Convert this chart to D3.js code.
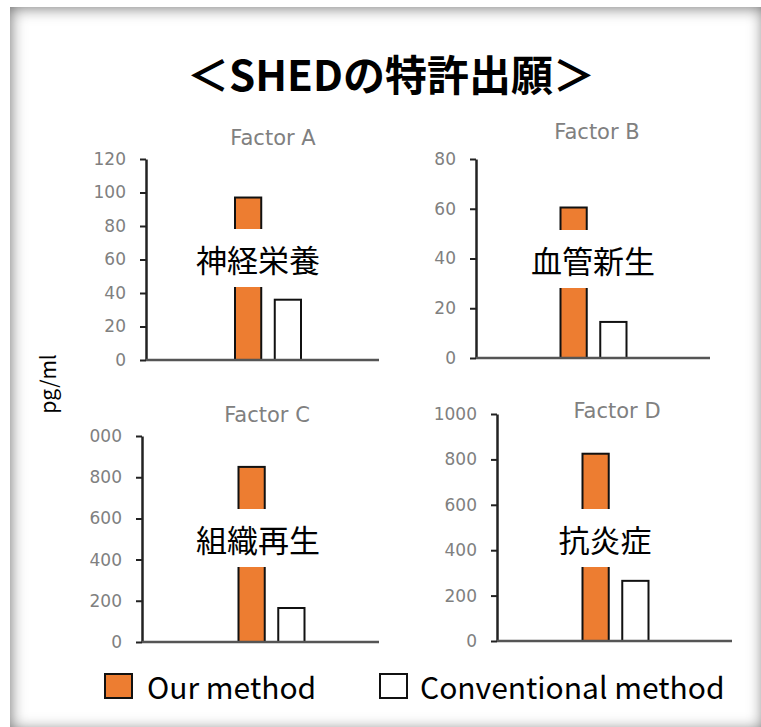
<!DOCTYPE html>
<html>
<head>
<meta charset="utf-8">
<script src="https://cdn.jsdelivr.net/npm/d3@7"></script>
<style>
  html, body { margin: 0; padding: 0; background: #fff; }
  body { width: 761px; height: 727px; overflow: hidden; position: relative; }
  #frame { position: absolute; left: 10px; top: 7px; width: 754px; height: 724px;
           box-shadow: inset 0 0 16px rgba(0,0,0,0.6); background: #fff; }
  svg { position: absolute; left: 0; top: 0; }
</style>
</head>
<body>
<div id="frame"></div>
<svg id="chart" width="761" height="727"></svg>
<script>
// ---- data ----
const chartTitle = "＜SHEDの特許出願＞";
const yAxisTitle = "pg/ml";
const panelTitles = ["Factor A", "Factor B", "Factor C", "Factor D"];
const panelLabels = ["神経栄養", "血管新生", "組織再生", "抗炎症"];
const seriesNames = ["Our method", "Conventional method"];
const ourMethod = [97, 60.5, 850, 825];
const conventionalMethod = [36, 14.5, 165, 265];
const yMaxes = [120, 80, 1000, 1000];
const tickA = [0, 20, 40, 60, 80, 100, 120];
const tickB = [0, 20, 40, 60, 80];
const tickC = [0, 200, 400, 600, 800, 1000];
const tickD = [0, 200, 400, 600, 800, 1000];
const panelTicks = [tickA, tickB, tickC, tickD];

// ---- layout ----
const layout = [
  {left: 146, right: 379, top: 159, bottom: 360, barCenter: 268, labelX: 258, labelY: 258, titleX: 273, titleY: 145, clipLeft: 0},
  {left: 476, right: 710, top: 159, bottom: 358, barCenter: 593.5, labelX: 593, labelY: 259, titleX: 597, titleY: 139, clipLeft: 0},
  {left: 142, right: 379, top: 436, bottom: 642, barCenter: 271.5, labelX: 258, labelY: 538, titleX: 267, titleY: 422, clipLeft: 89.5},
  {left: 497, right: 732, top: 414, bottom: 641, barCenter: 615.5, labelX: 605, labelY: 538, titleX: 617, titleY: 418, clipLeft: 0}
];
const colors = ["#ED7D31", "#FFFFFF"];

const svg = d3.select("#chart");
const defs = svg.append("defs");

// main title
svg.append("text")
  .attr("x", 391).attr("y", 91)
  .attr("text-anchor", "middle")
  .attr("font-family", "'Noto Sans CJK JP', sans-serif")
  .attr("font-weight", "bold")
  .attr("font-size", 42)
  .attr("fill", "#000")
  .text(chartTitle);

// y axis title
svg.append("text")
  .attr("transform", "translate(56,384) rotate(-90)")
  .attr("text-anchor", "middle")
  .attr("font-family", "'Noto Sans CJK JP', sans-serif")
  .attr("font-size", 21)
  .attr("fill", "#000")
  .text(yAxisTitle);

panelTitles.forEach((title, i) => {
  const L = layout[i];
  const g = svg.append("g");
  const y = d3.scaleLinear().domain([0, yMaxes[i]]).range([L.bottom, L.top]);
  const x = d3.scaleBand().domain(seriesNames)
    .range([L.barCenter - 33, L.barCenter + 33]).paddingInner(0.34).paddingOuter(0);

  // title
  g.append("text")
    .attr("x", L.titleX).attr("y", L.titleY)
    .attr("text-anchor", "middle")
    .attr("font-family", "'DejaVu Sans', Verdana, sans-serif")
    .attr("font-size", 21)
    .attr("fill", "#808080")
    .text(title);

  // y axis
  const axisG = g.append("g")
    .attr("transform", `translate(${L.left},0)`)
    .call(d3.axisLeft(y).tickValues(panelTicks[i]).tickFormat(d3.format("d"))
      .tickSize(6).tickSizeOuter(0).tickPadding(14));
  axisG.select(".domain").attr("stroke", "#222").attr("stroke-width", 2.5);
  axisG.selectAll(".tick line").attr("stroke", "#222").attr("stroke-width", 2);
  axisG.selectAll(".tick text")
    .attr("font-family", "'DejaVu Sans', Verdana, sans-serif")
    .attr("font-size", 17)
    .attr("fill", "#808080");
  if (L.clipLeft) {
    const id = "clip" + i;
    defs.append("clipPath").attr("id", id).append("rect")
      .attr("x", L.clipLeft - L.left).attr("y", 0).attr("width", 761).attr("height", 727);
    axisG.attr("clip-path", `url(#${id})`);
  }

  // bars
  const vals = [ourMethod[i], conventionalMethod[i]];
  g.selectAll("rect.bar").data(vals).join("rect")
    .attr("class", "bar")
    .attr("x", (d, j) => x(seriesNames[j]))
    .attr("width", x.bandwidth())
    .attr("y", d => y(d))
    .attr("height", d => y(0) - y(d))
    .attr("fill", (d, j) => colors[j])
    .attr("stroke", "#111").attr("stroke-width", 2);

  // x axis baseline
  g.append("line")
    .attr("x1", L.left).attr("x2", L.right)
    .attr("y1", y(0)).attr("y2", y(0))
    .attr("stroke", "#555").attr("stroke-width", 2.5);

  // overlay label with white box
  const lg = g.append("g");
  const box = lg.append("rect").attr("fill", "#fff");
  const t = lg.append("text")
    .attr("x", L.labelX).attr("y", L.labelY)
    .attr("text-anchor", "middle")
    .attr("dominant-baseline", "central")
    .attr("font-family", "'Noto Sans CJK JP', sans-serif")
    .attr("font-size", 31)
    .attr("fill", "#000")
    .text(panelLabels[i]);
  const bb = t.node().getBBox();
  box.attr("x", bb.x - 6).attr("y", L.labelY - 29)
     .attr("width", bb.width + 12).attr("height", 58);
});

// legend
const legendItems = [
  {x: 105, textX: 147},
  {x: 380, textX: 420}
];
seriesNames.forEach((name, j) => {
  const it = legendItems[j];
  svg.append("rect")
    .attr("x", it.x).attr("y", 674).attr("width", 27).attr("height", 24)
    .attr("fill", colors[j]).attr("stroke", "#111").attr("stroke-width", 2);
  svg.append("text")
    .attr("x", it.textX).attr("y", 686)
    .attr("dominant-baseline", "central")
    .attr("font-family", "'Noto Sans CJK JP', sans-serif")
    .attr("font-size", 30)
    .attr("fill", "#000")
    .text(name);
});
</script>
</body>
</html>
